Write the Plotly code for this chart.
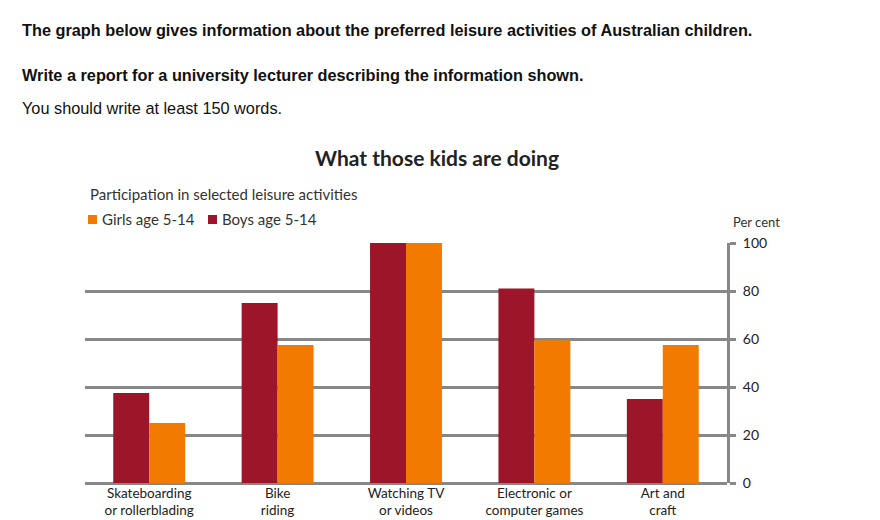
import plotly.graph_objects as go

categories = [
    "Skateboarding<br>or rollerblading",
    "Bike<br>riding",
    "Watching TV<br>or videos",
    "Electronic or<br>computer games",
    "Art and<br>craft",
]
boys = [37.5, 75, 100, 81, 35]
girls = [25, 57.5, 100, 59.5, 57.5]
y_ticks = [0, 20, 40, 60, 80, 100]

BOYS_COLOR = "#9c1528"
GIRLS_COLOR = "#f27a00"

# the page adds an 8px body margin, so work in screenshot pixels and shift
OFF = 8
W, H = 880 - OFF, 520 - OFF
# plot area in screenshot pixels: x 85..727, y 243..483
L, R, T, B = 85, 727, 243, 483


def px(x):
    return (x - L) / (R - L)


def py(y):
    return (B - y) / (B - T)


fig = go.Figure()

fig.add_trace(
    go.Bar(x=categories, y=boys, name="Boys age 5-14",
           marker=dict(color=BOYS_COLOR, line=dict(width=0)))
)
fig.add_trace(
    go.Bar(x=categories, y=girls, name="Girls age 5-14",
           marker=dict(color=GIRLS_COLOR, line=dict(width=0)))
)

hdr = "Liberation Sans, Arial"
annotations = [
    dict(text="<b>The graph below gives information about the preferred leisure activities of Australian children.</b>",
         x=px(20), y=py(30), font=dict(family=hdr, size=16.3, color="#111")),
    dict(text="<b>Write a report for a university lecturer describing the information shown.</b>",
         x=px(20), y=py(75), font=dict(family=hdr, size=16.3, color="#111")),
    dict(text="You should write at least 150 words.",
         x=px(20), y=py(108), font=dict(family=hdr, size=16.3, color="#111")),
    dict(text="Participation in selected leisure activities",
         x=px(88), y=py(194), font=dict(family="Lato", size=15, color="#333")),
    dict(text="Girls age 5-14",
         x=px(100), y=py(219), font=dict(family="Lato", size=15, color="#333")),
    dict(text="Boys age 5-14",
         x=px(220), y=py(219), font=dict(family="Lato", size=15, color="#333")),
    dict(text="Per cent",
         x=px(731), y=py(222), font=dict(family="Lato", size=13, color="#333")),
]
for a in annotations:
    a.update(xref="paper", yref="paper", xanchor="left", yanchor="middle",
             showarrow=False, xshift=0)

annotations.append(
    dict(text="<b>What those kids are doing</b>", x=px(437), y=py(157),
         xref="paper", yref="paper", xanchor="center", yanchor="middle",
         showarrow=False, font=dict(family="Lato", size=21, color="#222"))
)

# legend swatches
shapes = []
for x0, col in [(88, GIRLS_COLOR), (208, BOYS_COLOR)]:
    shapes.append(dict(type="rect", xref="paper", yref="paper",
                       x0=px(x0), x1=px(x0 + 9), y0=py(224), y1=py(215),
                       fillcolor=col, line=dict(width=0)))

fig.update_layout(
    width=W,
    height=H,
    margin=dict(l=L - OFF, r=W - (R - OFF), t=T - OFF, b=H - (B - OFF), autoexpand=False),
    paper_bgcolor="white",
    plot_bgcolor="white",
    barmode="group",
    bargap=0.44,
    bargroupgap=0,
    font=dict(family="Lato", size=12, color="#222"),
    annotations=annotations,
    shapes=shapes,
    showlegend=False,
    xaxis=dict(
        automargin=False,
        showgrid=False,
        showline=False,
        ticks="",
        tickfont=dict(family="Lato", size=13.5, color="#222"),
    ),
    yaxis=dict(
        automargin=False,
        side="right",
        range=[0, 100],
        tickvals=y_ticks,
        showgrid=True,
        gridcolor="#888888",
        gridwidth=3,
        zeroline=True,
        zerolinecolor="#888888",
        zerolinewidth=3,
        showline=True,
        linecolor="#888888",
        linewidth=3,
        ticks="outside",
        ticklen=6,
        tickwidth=3,
        tickcolor="#888888",
        ticklabelstandoff=4,
        tickfont=dict(family="Lato", size=14, color="#222"),
    ),
)

fig.write_html("out.html")
